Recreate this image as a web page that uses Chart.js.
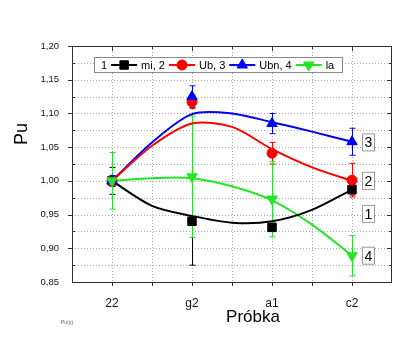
<!DOCTYPE html>
<html><head><meta charset="utf-8">
<script src="https://cdn.jsdelivr.net/npm/chart.js@4"></script>
<style>html,body{margin:0;padding:0;background:#fff}#wrap{width:413px;height:354px}</style>
</head><body><div id="wrap"><canvas id="c" width="413" height="354"></canvas></div>
<script>
const categories = ['22', 'g2', 'a1', 'c2'];
const yTickValues = [0.85, 0.90, 0.95, 1.00, 1.05, 1.10, 1.15, 1.20];

const miValues  = [1.000, 0.940, 0.931, 0.987];
const miErr     = [0.020, 0.065, 0.006, 0.008];
const ubValues  = [1.000, 1.117, 1.041, 1.001];
const ubErr     = [0.008, 0.010, 0.016, 0.025];
const ubnValues = [1.000, 1.125, 1.085, 1.058];
const ubnErr    = [0.008, 0.016, 0.015, 0.020];
const laValues  = [1.000, 1.006, 0.973, 0.889];
const laErr     = [0.042, 0.090, 0.056, 0.030];

// fitted curves, read at half-category steps
const fitX      = [0, 0.5, 1, 1.5, 2, 2.5, 3];
const miFit     = [1.000, 0.963, 0.948, 0.938, 0.940, 0.957, 0.987];
const ubFit     = [1.000, 1.052, 1.085, 1.080, 1.047, 1.020, 1.000];
const ubnFit    = [1.000, 1.057, 1.099, 1.100, 1.087, 1.073, 1.058];
const laFit     = [1.000, 1.004, 1.004, 0.992, 0.971, 0.935, 0.889];

// curve number tags at the right end (value on y axis)
const tagTexts  = ['1', '2', '3', '4'];
const tagValues = [0.951, 1.000, 1.057, 0.889];

const legendParts = ['1', 'mi, 2', 'Ub, 3', 'Ubn, 4', 'la'];

const COL = {mi:'#000000', ub:'#ff0000', ubn:'#0000ff', la:'#22e622'};
const FONT = '"Liberation Sans", Arial, sans-serif';

const pts = v => v.map((y, i) => ({x: i, y}));
const fit = v => v.map((y, i) => ({x: fitX[i], y}));

const series = [
  {key:'mi',  vals:miValues,  err:miErr,  fit:miFit,  style:'rect',     rot:0,   r:6},
  {key:'ub',  vals:ubValues,  err:ubErr,  fit:ubFit,  style:'circle',   rot:0,   r:5},
  {key:'ubn', vals:ubnValues, err:ubnErr, fit:ubnFit, style:'triangle', rot:0,   r:6},
  {key:'la',  vals:laValues,  err:laErr,  fit:laFit,  style:'triangle', rot:180, r:6},
];

const datasets = [];
series.slice().reverse().forEach(s => {
  datasets.push({type:'line', data:pts(s.vals), showLine:false, pointStyle:s.style, pointRotation:s.rot,
    pointRadius:s.r, pointBackgroundColor:COL[s.key], pointBorderColor:COL[s.key], pointBorderWidth:1});
});
series.forEach(s => {
  datasets.push({type:'line', data:fit(s.fit), showLine:true, borderColor:COL[s.key], borderWidth:2,
    pointRadius:0, tension:0.3, fill:false});
});

const frame = {
  id:'frame',
  beforeDatasetsDraw(chart) {
    const {ctx, chartArea:a, scales:{x, y}} = chart;
    ctx.save();
    ctx.strokeStyle = '#a8a8a8'; ctx.lineWidth = 1; ctx.setLineDash([1, 2]);
    for (let v = 0.875; v < 1.2; v += 0.025) {
      const py = Math.round(y.getPixelForValue(v)) + 0.5;
      ctx.beginPath(); ctx.moveTo(a.left, py); ctx.lineTo(a.right, py); ctx.stroke();
    }
    for (let v = 0; v <= 3; v += 0.5) {
      const px = Math.round(x.getPixelForValue(v)) + 0.5;
      ctx.beginPath(); ctx.moveTo(px, a.top); ctx.lineTo(px, a.bottom); ctx.stroke();
    }
    ctx.setLineDash([]);
    // error bars
    series.forEach(s => {
      ctx.strokeStyle = COL[s.key]; ctx.lineWidth = 1;
      s.vals.forEach((v, i) => {
        const px = Math.round(x.getPixelForValue(i)) + 0.5;
        const t = y.getPixelForValue(v + s.err[i]), b = y.getPixelForValue(v - s.err[i]);
        ctx.beginPath(); ctx.moveTo(px, t); ctx.lineTo(px, b);
        ctx.moveTo(px - 3, t); ctx.lineTo(px + 3, t);
        ctx.moveTo(px - 3, b); ctx.lineTo(px + 3, b); ctx.stroke();
      });
    });
    ctx.restore();
  },
  afterDraw(chart) {
    const {ctx, chartArea:a, scales:{x, y}} = chart;
    ctx.save();
    ctx.strokeStyle = '#303030'; ctx.lineWidth = 1;
    ctx.strokeRect(a.left + 0.5, a.top + 0.5, a.right - a.left - 1, a.bottom - a.top);
    ctx.beginPath();
    for (let v = 0.875; v < 1.2; v += 0.025) {
      const py = Math.round(y.getPixelForValue(v)) + 0.5;
      const major = Math.abs(v * 20 - Math.round(v * 20)) < 1e-6;
      if (major) { ctx.moveTo(a.left - 4, py); ctx.lineTo(a.left, py); }
      else { ctx.moveTo(a.left, py); ctx.lineTo(a.left + 3, py); }
      ctx.moveTo(a.right, py); ctx.lineTo(a.right - (major ? 5 : 3), py);
    }
    for (let v = 0; v <= 3; v += 0.5) {
      const px = Math.round(x.getPixelForValue(v)) + 0.5;
      const major = Number.isInteger(v);
      ctx.moveTo(px, a.bottom); ctx.lineTo(px, a.bottom + 4);
      ctx.moveTo(px, a.top); ctx.lineTo(px, a.top + (major ? 5 : 3));
    }
    ctx.stroke();

    // axis titles
    ctx.fillStyle = '#000';
    ctx.font = '17px ' + FONT; ctx.textAlign = 'center'; ctx.textBaseline = 'middle';
    ctx.fillText('Próbka', 253, 317);
    ctx.save(); ctx.translate(22, 134); ctx.rotate(-Math.PI / 2);
    ctx.font = '18px ' + FONT; ctx.fillText('Pu', 0, 0); ctx.restore();
    ctx.font = '5px ' + FONT; ctx.fillStyle = '#666'; ctx.fillText('Pu(p)', 67, 323);

    // tags
    ctx.font = '14px ' + FONT;
    tagTexts.forEach((t, i) => {
      const py = y.getPixelForValue(tagValues[i]);
      const cx = 368;
      ctx.fillStyle = '#fff'; ctx.fillRect(cx - 6, py - 9, 13, 18);
      ctx.strokeStyle = '#999'; ctx.strokeRect(cx - 6 + 0.5, py - 9 + 0.5, 12, 17);
      ctx.fillStyle = '#000'; ctx.fillText(t, cx + 0.5, py + 1);
    });

    // legend
    ctx.font = '11px ' + FONT; ctx.textAlign = 'left';
    const lx0 = 94, ly0 = 57, lh = 15;
    ctx.fillStyle = '#fff'; ctx.fillRect(lx0, ly0, 248, lh);
    ctx.strokeStyle = '#888'; ctx.strokeRect(lx0 + 0.5, ly0 + 0.5, 248, lh);
    const cy = ly0 + lh / 2 + 0.5;
    let cx = lx0 + 7;
    legendParts.forEach((txt, i) => {
      ctx.fillStyle = '#000'; ctx.fillText(txt, cx, cy + 0.5);
      cx += ctx.measureText(txt).width + 4;
      if (i < series.length) {
        const s = series[i];
        ctx.strokeStyle = COL[s.key]; ctx.lineWidth = 2;
        ctx.beginPath(); ctx.moveTo(cx, cy); ctx.lineTo(cx + 26, cy); ctx.stroke();
        ctx.lineWidth = 1;
        ctx.fillStyle = COL[s.key];
        ctx.strokeStyle = COL[s.key];
        Chart.helpers.drawPoint(ctx, {pointStyle:s.style, rotation:s.rot, radius:s.r, borderWidth:1}, cx + 13, cy);
        cx += 30;
      }
    });
    ctx.restore();
  }
};

new Chart(document.getElementById('c'), {
  type:'line',
  data:{datasets},
  options:{
    responsive:false, animation:false,
    layout:{padding:{left:0, top:46, right:21, bottom:0}},
    plugins:{legend:{display:false}, tooltip:{enabled:false}},
    scales:{
      x:{type:'linear', min:-0.5, max:3.5,
        afterBuildTicks(s){ s.ticks = categories.map((c, i) => ({value:i})); },
        afterFit(s){ s.height = 72; },
        grid:{display:false}, border:{display:false},
        ticks:{padding:6, color:'#111', font:{size:12, family:FONT},
          callback:(v) => categories[v] ?? ''}},
      y:{type:'linear', min:0.85, max:1.20,
        afterBuildTicks(s){ s.ticks = yTickValues.map(v => ({value:v})); },
        afterFit(s){ s.width = 72; },
        grid:{display:false}, border:{display:false},
        ticks:{padding:5, color:'#111', font:{size:9.5, family:FONT},
          callback:(v) => v.toFixed(2).replace('.', ',')}}
    }
  },
  plugins:[frame]
});
</script></body></html>
